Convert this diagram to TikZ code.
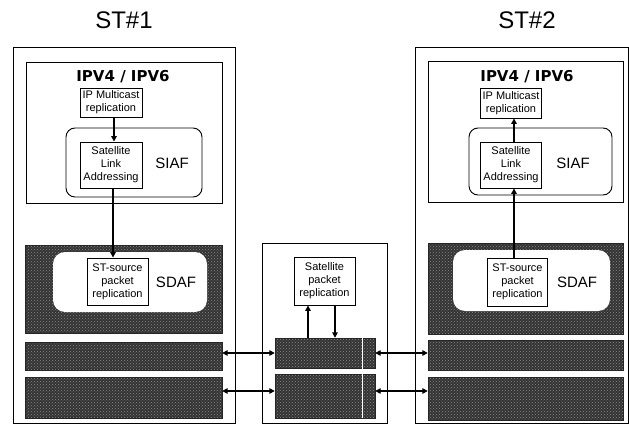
\documentclass[tikz,border=0pt]{standalone}
\usepackage{fontspec}
\setmainfont{Liberation Sans}
\newfontfamily\layerfont{DejaVu Sans}
\usetikzlibrary{arrows.meta,patterns}
\begin{document}
\begin{tikzpicture}[x=1pt,y=-1pt,
  frame/.style={draw=black, line width=0.8pt, inner sep=0pt},
  dark/.style={draw=black!85, preaction={fill=black!80}, pattern=crosshatch dots, pattern color=black!45, inner sep=0pt},
  fbox/.style={draw=black, line width=0.9pt, fill=white, inner sep=0pt, align=center, font=\fontsize{11}{13}\selectfont},
  rbox/.style={draw=black, line width=0.9pt, rounded corners=9pt, fill=white, inner sep=0pt},
  wbox/.style={fill=white, rounded corners=12pt, inner sep=0pt},
  title/.style={font=\fontsize{24}{28}\selectfont},
  layer/.style={font=\layerfont\fontsize{15}{18}\selectfont\bfseries},
  fname/.style={font=\fontsize{15}{18}\selectfont},
  arr/.style={line width=1.8pt, -{Triangle[length=5.5pt,width=5.5pt]}},
  darr/.style={line width=1.8pt, {Triangle[length=5.5pt,width=5.5pt]}-{Triangle[length=5.5pt,width=5.5pt]}},
]
\useasboundingbox (0,0) rectangle (629,425);

% titles
\node[title] (st1) at (124,20) {ST\#1};
\node[title] (st2) at (527,20) {ST\#2};

% ---------- ST#1 ----------
\node[frame, minimum width=222pt, minimum height=376pt] (outL) at (124,235) {};
\node[frame, minimum width=196pt, minimum height=141pt] (ipL) at (124,132.5) {};
\node[layer] (ipvL) at (123,77) {IPV4 / IPV6};
\node[rbox, minimum width=136pt, minimum height=69pt] (siafL) at (134,162.5) {};
\node[fbox, minimum width=62pt, minimum height=29pt] (mcL) at (111,102.5) {IP Multicast\\replication};
\node[fbox, minimum width=62pt, minimum height=46pt] (slaL) at (111,165) {Satellite\\Link\\Addressing};
\node[fname] (siafLt) at (172,163) {SIAF};
\node[dark, minimum width=197pt, minimum height=88pt] (sdafL) at (123.5,289) {};
\node[wbox, minimum width=154pt, minimum height=60pt] (sdafwL) at (130,282) {};
\node[fbox, minimum width=61pt, minimum height=47pt] (stsL) at (117.5,281.5) {ST-source\\packet\\replication};
\node[fname] (sdafLt) at (176,282) {SDAF};
\node[dark, minimum width=197pt, minimum height=28pt] (b1L) at (123.5,356) {};
\node[dark, minimum width=197pt, minimum height=41pt] (b2L) at (123.5,397.5) {};

\draw[arr] ([xshift=3pt]mcL.south) -- ([xshift=3pt]slaL.north);
\draw[arr] ([xshift=2pt]slaL.south) -- ([xshift=2pt]slaL.south |- stsL.north);

% ---------- middle ----------
\node[frame, minimum width=125pt, minimum height=180pt] (outM) at (324.5,333) {};
\node[fbox, minimum width=61pt, minimum height=48pt] (spr) at (324.5,281) {Satellite\\packet\\replication};
\node[dark, minimum width=100pt, minimum height=30pt] (mb1) at (325,353) {};
\node[dark, minimum width=100pt, minimum height=44pt] (mb2) at (325,396) {};
\draw[white, line width=1pt] ([xshift=37pt]mb1.north) -- ([xshift=37pt]mb2.south);

\draw[arr] ([xshift=-16.5pt]spr.south |- mb1.north) -- ([xshift=-16.5pt]spr.south);
\draw[arr] ([xshift=10.5pt]spr.south) -- ([xshift=10.5pt]spr.south |- mb1.north);

% ---------- ST#2 ----------
\node[frame, minimum width=213pt, minimum height=376pt] (outR) at (521.5,235) {};
\node[frame, minimum width=195pt, minimum height=141pt] (ipR) at (525.5,131.5) {};
\node[layer] (ipvR) at (527,77) {IPV4 / IPV6};
\node[rbox, minimum width=143pt, minimum height=67pt] (siafR) at (540.5,161.5) {};
\node[fbox, minimum width=61pt, minimum height=30pt] (mcR) at (511,103) {IP Multicast\\replication};
\node[fbox, minimum width=61pt, minimum height=46pt] (slaR) at (511,165) {Satellite\\Link\\Addressing};
\node[fname] (siafRt) at (573,163) {SIAF};
\node[dark, minimum width=195pt, minimum height=91pt] (sdafR) at (525.5,288.5) {};
\node[wbox, minimum width=157pt, minimum height=61pt] (sdafwR) at (531.5,280.5) {};
\node[fbox, minimum width=60pt, minimum height=48pt] (stsR) at (517.5,282) {ST-source\\packet\\replication};
\node[fname] (sdafRt) at (577,282) {SDAF};
\node[dark, minimum width=195pt, minimum height=30pt] (b1R) at (525.5,355) {};
\node[dark, minimum width=195pt, minimum height=43pt] (b2R) at (525.5,398.5) {};

\draw[arr] ([xshift=3pt]slaR.north) -- ([xshift=3pt]mcR.south);
\draw[arr] ([xshift=3pt]slaR.south |- stsR.north) -- ([xshift=3pt]slaR.south);

% ---------- links ----------
\coordinate (m2l) at ([yshift=5pt]mb2.west);
\coordinate (m2r) at ([yshift=5pt]mb2.east);
\draw[darr] (b1L.east |- mb1.west) -- (mb1.west);
\draw[darr] (b2L.east |- m2l) -- (m2l);
\draw[darr] (mb1.east) -- (mb1.east -| b1R.west);
\draw[darr] (m2r) -- (m2r -| b2R.west);
\end{tikzpicture}
\end{document}
